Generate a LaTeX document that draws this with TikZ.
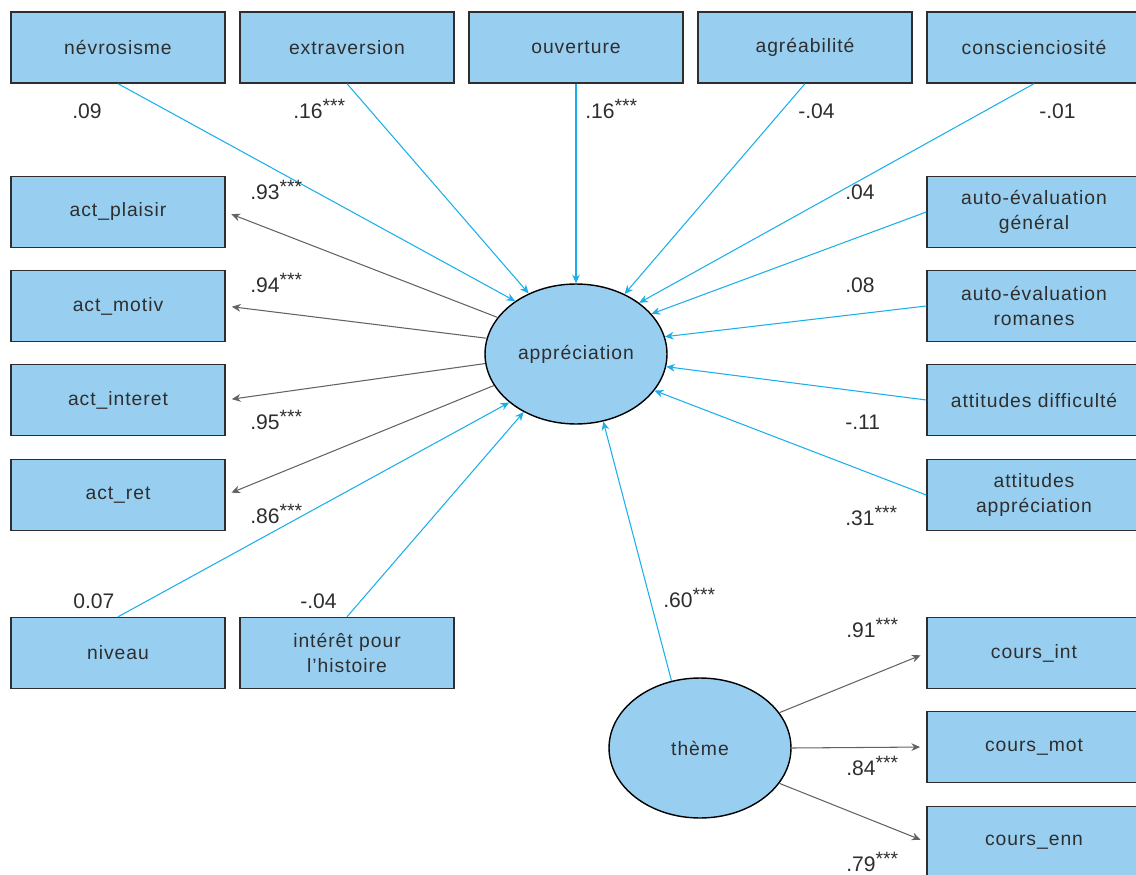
\documentclass[tikz,border=0pt]{standalone}
\usepackage{fontspec}
\setmainfont{Liberation Sans}
\newfontfamily\boxfont[LetterSpace=5]{Liberation Sans}
\usepackage{xcolor}
\usetikzlibrary{arrows.meta,shapes.geometric}

\definecolor{boxblue}{HTML}{98CFF0}
\definecolor{pathcyan}{HTML}{1AAFEA}
\definecolor{loadgray}{HTML}{636363}
\definecolor{inkgray}{HTML}{2E2E2E}
\newcommand{\sigstars}{\raisebox{0.25em}{\fontsize{11}{11}\selectfont***}}

\begin{document}
\begin{tikzpicture}[x=0.02cm,y=-0.02cm,>={Stealth[length=5pt,width=4.4pt]},
  obs/.style={rectangle,draw=inkgray,line width=0.8pt,fill=boxblue,minimum width=4.28cm,minimum height=1.42cm,inner sep=1pt,align=center,text=inkgray,font=\boxfont\fontsize{11}{14.2}\selectfont},
  lat/.style={ellipse,draw=black,line width=0.8pt,fill=boxblue,minimum width=3.64cm,minimum height=2.8cm,inner sep=0pt,text=inkgray,font=\boxfont\fontsize{11}{14.2}\selectfont},
  lbl/.style={anchor=base west,inner sep=0pt,text=inkgray,font=\fontsize{12}{14}\selectfont},
  regpath/.style={->,draw=pathcyan,line width=0.6pt},
  loading/.style={->,draw=loadgray,line width=0.6pt,shorten >=3.5pt}]
  \useasboundingbox (0,0) rectangle (1136,875);

  % personnalite (haut)
  \node[obs] (nevro) at (118,47.5) {névrosisme};
  \node[obs] (extra) at (347,47.5) {extraversion};
  \node[obs] (ouver) at (576,47.5) {ouverture};
  \node[obs] (agrea) at (805,47.5) {agréabilité};
  \node[obs] (consc) at (1034,47.5) {conscienciosité};

  % indicateurs appreciation
  \node[obs] (plaisir) at (118,212) {act\_plaisir};
  \node[obs] (motiv) at (118,306) {act\_motiv};
  \node[obs] (interet) at (118,400) {act\_interet};
  \node[obs] (ret) at (118,495) {act\_ret};

  % autres predicteurs
  \node[obs] (autogen) at (1034,212) {auto-évaluation\\général};
  \node[obs] (autorom) at (1034,306) {auto-évaluation\\romanes};
  \node[obs] (attdiff) at (1034,400) {attitudes difficulté};
  \node[obs] (attappr) at (1034,495) {attitudes\\appréciation};
  \node[obs] (niveau) at (118,653) {niveau};
  \node[obs] (histoire) at (347,653) {intérêt pour\\l’histoire};

  % indicateurs theme
  \node[obs] (cint) at (1034,653) {cours\_int};
  \node[obs] (cmot) at (1034,747) {cours\_mot};
  \node[obs] (cenn) at (1034,842) {cours\_enn};

  % latentes
  \node[lat] (appr) at (576,354) {appréciation};
  \node[lat] (theme) at (700,748) {thème};

  \draw[regpath] (nevro.south) -- (appr.139);
  \draw[regpath] (extra.south) -- (appr.128);
  \draw[regpath] (ouver.south) -- (appr.90);
  \draw[regpath] (agrea.south) -- (appr.51);
  \draw[regpath] (consc.south) -- (appr.39);
  \draw[regpath] (autogen.west) -- (appr.28);
  \draw[regpath] (autorom.west) -- (appr.11);
  \draw[regpath] (attdiff.west) -- (appr.-8);
  \draw[regpath] (attappr.west) -- (appr.-25);
  \draw[regpath] (niveau.north) -- (appr.216);
  \draw[regpath] (histoire.north) -- (appr.228);
  \draw[regpath] (theme.113) -- (appr.-68);

  \draw[loading] (appr.155) -- (plaisir.east);
  \draw[loading] (appr.170) -- (motiv.east);
  \draw[loading] (appr.186) -- (interet.east);
  \draw[loading] (appr.201) -- (ret.east);
  \draw[loading] (theme.24) -- (cint.west);
  \draw[loading] (theme.east) -- (cmot.west);
  \draw[loading] (theme.-24) -- (cenn.west);

  % coefficients
  \node[lbl] (bNevro) at (72,118) {.09};
  \node[lbl] (bExtra) at (293,118) {.16\sigstars};
  \node[lbl] (bOuver) at (585,118) {.16\sigstars};
  \node[lbl] (bAgrea) at (798,118) {-.04};
  \node[lbl] (bConsc) at (1039,118) {-.01};
  \node[lbl] (lPlaisir) at (250,199) {.93\sigstars};
  \node[lbl] (lMotiv) at (250,292) {.94\sigstars};
  \node[lbl] (lInteret) at (250,429) {.95\sigstars};
  \node[lbl] (lRet) at (250,523) {.86\sigstars};
  \node[lbl] (bAutogen) at (845,199) {.04};
  \node[lbl] (bAutorom) at (845,292) {.08};
  \node[lbl] (bAttdiff) at (845,429) {-.11};
  \node[lbl] (bAttappr) at (845,525) {.31\sigstars};
  \node[lbl] (bNiveau) at (73,608) {0.07};
  \node[lbl] (bHistoire) at (300,608) {-.04};
  \node[lbl] (bTheme) at (663,607) {.60\sigstars};
  \node[lbl] (lCint) at (846,637) {.91\sigstars};
  \node[lbl] (lCmot) at (846,775) {.84\sigstars};
  \node[lbl] (lCenn) at (846,871) {.79\sigstars};
\end{tikzpicture}
\end{document}
